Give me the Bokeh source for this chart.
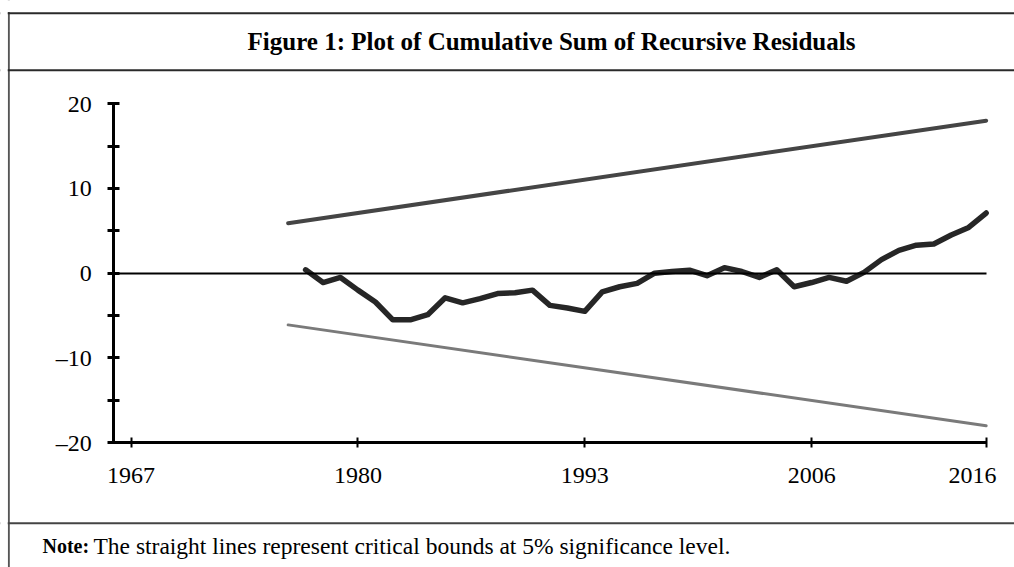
from bokeh.plotting import figure
from bokeh.models import Range1d, LinearAxis, FixedTicker, Span, Label
from bokeh.embed import file_html
from bokeh.resources import INLINE

# ---- data ----
years = list(range(1977, 2017))
cusum = [0.4, -1.1, -0.5, -2.0, -3.4, -5.5, -5.5, -4.9, -2.9, -3.5,
         -3.0, -2.4, -2.3, -2.0, -3.8, -4.1, -4.5, -2.2, -1.6, -1.2,
         0.0, 0.2, 0.35, -0.3, 0.65, 0.2, -0.5, 0.4, -1.6, -1.1,
         -0.5, -0.95, 0.1, 1.6, 2.7, 3.3, 3.45, 4.5, 5.4, 7.1]
bound_years = [1976, 2016]
upper_bound = [5.9, 18.0]
lower_bound = [-6.1, -18.0]
x_ticks = [1967, 1980, 1993, 2006, 2016]
y_ticks = [-20, -10, 0, 10, 20]
y_minor = [-15, -5, 5, 15]
title_text = "Figure 1: Plot of Cumulative Sum of Recursive Residuals"
note_bold = "Note:"
note_text = "The straight lines represent critical bounds at 5% significance level."

FONT = "Liberation Serif"
W, H = 1014, 567

p = figure(width=W, height=H, output_backend="svg", toolbar_location=None,
           x_range=Range1d(1959.516, 2017.625), y_range=Range1d(-34.73, 32.18),
           x_axis_type=None, y_axis_type=None, min_border=0,
           background_fill_color="white", border_fill_color="white")
p.outline_line_color = None
p.grid.visible = False

# ---- axes (fixed inside the frame) ----
yax = LinearAxis(fixed_location=1966, bounds=(-20, 20),
                 ticker=FixedTicker(ticks=y_ticks, minor_ticks=y_minor))
yax.axis_line_width = 3
yax.axis_line_color = "black"
yax.major_tick_in = 6
yax.major_tick_out = 6
yax.minor_tick_in = 6
yax.minor_tick_out = 6
yax.major_tick_line_width = 3
yax.minor_tick_line_width = 3
yax.major_tick_line_color = "black"
yax.minor_tick_line_color = "black"
yax.major_label_text_font = FONT
yax.major_label_text_font_size = "24px"
yax.major_label_text_color = "black"
yax.major_label_standoff = 16
yax.major_label_overrides = {-20: "\u201320", -10: "\u201310"}
p.add_layout(yax, "left")

xax = LinearAxis(fixed_location=-20, bounds=(1966, 2016),
                 ticker=FixedTicker(ticks=x_ticks, minor_ticks=[]))
xax.axis_line_width = 3
xax.axis_line_color = "black"
xax.major_tick_in = 5
xax.major_tick_out = 5
xax.major_tick_line_width = 2
xax.major_tick_line_color = "black"
xax.minor_tick_line_color = None
xax.major_label_text_font = FONT
xax.major_label_text_font_size = "24px"
xax.major_label_text_color = "black"
xax.major_label_standoff = 14
xax.major_label_overrides = {2016: "2016\u00a0\u00a0\u00a0"}
p.add_layout(xax, "below")

zax = LinearAxis(fixed_location=0, bounds=(1966, 2016),
                 ticker=FixedTicker(ticks=[], minor_ticks=[]))
zax.axis_line_width = 2
zax.axis_line_color = "black"
zax.major_tick_line_color = None
zax.minor_tick_line_color = None
zax.major_label_text_font_size = "0px"
p.add_layout(zax, "below")

# ---- data lines ----
p.line(bound_years, upper_bound, line_color="#454545", line_width=4, line_cap="round")
p.line(bound_years, lower_bound, line_color="#7a7a7a", line_width=3, line_cap="round")
p.line(years, cusum, line_color="#262626", line_width=5.5, line_join="round", line_cap="round")

# ---- frame decorations (screen units, y from bottom) ----
p.add_layout(Span(location=8.3, location_units="screen", dimension="height",
                  line_color="#555555", line_width=2))
p.add_layout(Span(location=561.3, location_units="screen", dimension="width",
                  line_color="white", line_width=11.5))
for loc, col in [(554.3, "#2a2a2a"), (497.3, "#2a2a2a"), (44.3, "#444444")]:
    p.add_layout(Span(location=loc, location_units="screen", dimension="width",
                      line_color=col, line_width=2))
p.add_layout(Span(location=3.6, location_units="screen", dimension="height",
                  line_color="white", line_width=7.2))

p.add_layout(Label(x=551, y=526, x_units="screen", y_units="screen", text=title_text,
                   text_font=FONT, text_font_size="25px", text_font_style="bold",
                   text_align="center", text_baseline="middle", text_color="black"))
p.add_layout(Label(x=42, y=22, x_units="screen", y_units="screen", text=note_bold,
                   text_font=FONT, text_font_size="20px", text_font_style="bold",
                   text_align="left", text_baseline="middle", text_color="black"))
p.add_layout(Label(x=93, y=22, x_units="screen", y_units="screen", text=note_text,
                   text_font=FONT, text_font_size="23.5px",
                   text_align="left", text_baseline="middle", text_color="black"))

open("out.html", "w").write(file_html(p, INLINE))
